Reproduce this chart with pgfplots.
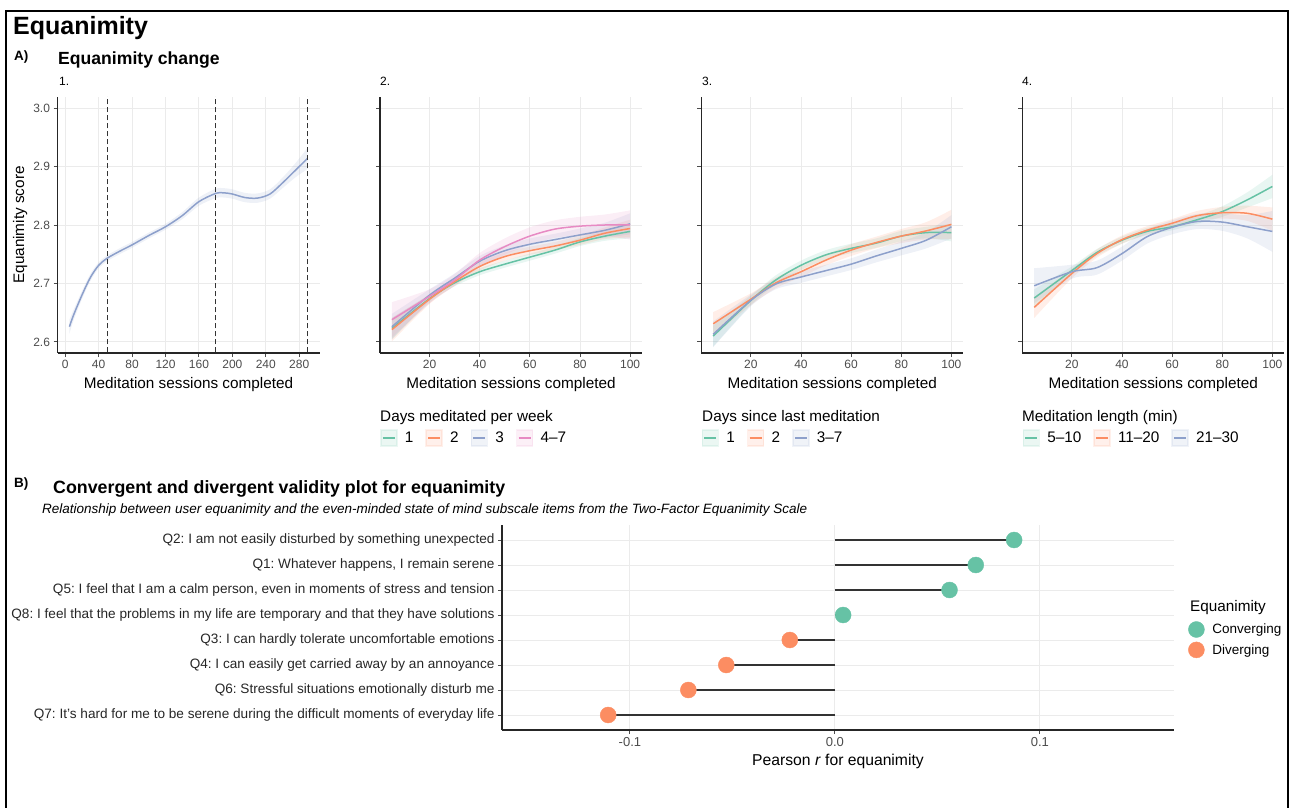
\documentclass[border=0pt]{standalone}
\usepackage{fontspec}
\setmainfont{Liberation Sans}
\usepackage{pgfplots}
\pgfplotsset{compat=1.18}
\usepackage{pgfplotstable}
\usepgfplotslibrary{fillbetween}
\frenchspacing

\definecolor{sgreen}{HTML}{66C2A5}
\definecolor{sorange}{HTML}{FC8D62}
\definecolor{sblue}{HTML}{8DA0CB}
\definecolor{spink}{HTML}{E78AC3}
\definecolor{gridc}{HTML}{EBEBEB}

\pgfplotstableread{
x y e
5 2.626 0.012
10 2.646 0.009
20 2.680 0.007
30 2.710 0.006
40 2.731 0.005
50 2.743 0.005
65 2.755 0.005
80 2.766 0.005
100 2.782 0.005
120 2.797 0.005
140 2.816 0.006
160 2.840 0.007
180 2.854 0.008
190 2.855 0.008
200 2.853 0.008
215 2.847 0.008
230 2.846 0.008
245 2.853 0.008
260 2.872 0.009
275 2.893 0.012
290 2.914 0.018
}\tA

\pgfplotstableread{
x g ge o oe b be p pe
5 2.623 0.018 2.621 0.020 2.626 0.022 2.638 0.030
20 2.674 0.007 2.673 0.008 2.680 0.010 2.678 0.012
30 2.701 0.006 2.703 0.007 2.709 0.008 2.706 0.010
40 2.720 0.006 2.729 0.007 2.738 0.009 2.740 0.012
50 2.733 0.006 2.746 0.007 2.756 0.009 2.763 0.014
60 2.745 0.006 2.756 0.007 2.767 0.010 2.781 0.015
70 2.757 0.006 2.764 0.007 2.775 0.010 2.793 0.015
80 2.771 0.007 2.774 0.008 2.783 0.011 2.798 0.016
90 2.781 0.008 2.786 0.010 2.791 0.013 2.800 0.018
100 2.789 0.012 2.794 0.015 2.802 0.018 2.800 0.025
}\tB

\pgfplotstableread{
x g ge o oe b be
5 2.610 0.018 2.631 0.020 2.613 0.022
20 2.671 0.008 2.673 0.010 2.671 0.010
30 2.706 0.008 2.701 0.009 2.699 0.009
40 2.731 0.008 2.720 0.009 2.711 0.010
50 2.749 0.008 2.740 0.009 2.722 0.010
60 2.760 0.008 2.757 0.010 2.733 0.010
70 2.769 0.008 2.770 0.010 2.747 0.011
80 2.781 0.009 2.781 0.012 2.760 0.012
90 2.787 0.010 2.790 0.015 2.774 0.014
100 2.787 0.015 2.801 0.025 2.797 0.020
}\tC

\pgfplotstableread{
x g ge o oe b be
5 2.675 0.015 2.659 0.018 2.696 0.030
20 2.722 0.007 2.717 0.008 2.720 0.012
30 2.753 0.006 2.751 0.007 2.727 0.012
40 2.774 0.006 2.775 0.007 2.751 0.012
50 2.789 0.006 2.791 0.007 2.780 0.012
60 2.797 0.006 2.803 0.007 2.796 0.012
70 2.809 0.007 2.816 0.008 2.806 0.013
80 2.823 0.009 2.821 0.010 2.805 0.015
90 2.843 0.013 2.820 0.013 2.797 0.020
100 2.866 0.020 2.810 0.020 2.789 0.035
}\tD

\pgfplotstableread{
r v
8 0.0874
7 0.0687
6 0.0559
5 0.0040
}\tConv
\pgfplotstableread{
r v
4 -0.0220
3 -0.0530
2 -0.0715
1 -0.1106
}\tDiv
\pgfplotstableread{
r v
8 0.0874
7 0.0687
6 0.0559
5 0.0040
4 -0.0220
3 -0.0530
2 -0.0715
1 -0.1106
}\tAll

\newcommand{\band}[5]{%
  \addplot[draw=none, smooth, forget plot, name path=U#5] table[x=x, y expr=\thisrow{#2}+\thisrow{#3}] {#1};
  \addplot[draw=none, smooth, forget plot, name path=L#5] table[x=x, y expr=\thisrow{#2}-\thisrow{#3}] {#1};
  \addplot[fill=#4, fill opacity=0.15, draw=none, forget plot] fill between[of=U#5 and L#5];
}

\pgfplotsset{
  base/.style={scale only axis, anchor=south west, axis lines*=left,
    axis line style={line width=1.1pt, black!85},
    grid=major, major grid style={gridc, line width=0.9pt},
    tick align=outside, major tick length=4pt,
    tick style={black!70, line width=0.9pt},
    ticklabel style={font=\fontsize{12}{12}\selectfont, text=black!70},
    /pgf/number format/assume math mode=true,
    label style={font=\fontsize{15.3}{15.3}\selectfont}},
  panel/.style={base, width=262pt, height=256pt, ymin=2.581, ymax=3.019,
    ytick={2.6,2.7,2.8,2.9,3.0},
    xlabel={Meditation sessions completed},
    x label style={at={(rel axis cs:0.5,0)}, anchor=base, yshift=-35pt}},
  small/.style={panel, xmin=0.25, xmax=104.75, xtick={20,40,60,80,100}, yticklabels={},
    legend style={at={(rel axis cs:0,0)}, anchor=north west, yshift=-76pt,
      draw=none, fill=none, inner sep=0pt, legend columns=-1,
      font=\fontsize{15.3}{15.3}\selectfont,
      /tikz/every even column/.append style={column sep=10pt}},
    legend image code/.code={\fill[opacity=0.13] (0pt,-8pt) rectangle (16pt,8pt);
      \draw[line width=1.4pt] (2pt,0pt) -- (14pt,0pt);
      \path[draw=none, fill=none] (0pt,0pt) -- (22pt,0pt);}},
}

\begin{document}
\begin{tikzpicture}[x=1pt,y=1pt]
\coordinate (P1) at (57.5,454);
\coordinate (P2) at (380,454);
\coordinate (P3) at (701.3,454);
\coordinate (P4) at (1022.3,454);
\coordinate (PB) at (502,77);
\draw[line width=1.8pt] (6,-20) -- (6,796) -- (1288,796) -- (1288,-20);

\node[anchor=base west, inner sep=0pt, font=\fontsize{25}{25}\selectfont\bfseries] at (13,772) {Equanimity};
\node[anchor=base west, inner sep=0pt, font=\fontsize{13.5}{13.5}\selectfont\bfseries] at (14,746) {A)};
\node[anchor=base west, inner sep=0pt, font=\fontsize{17.6}{17.6}\selectfont\bfseries] at (58,742) {Equanimity change};
\node[anchor=base west, inner sep=0pt, font=\fontsize{12}{12}\selectfont] at (59,721) {1.};
\node[anchor=base west, inner sep=0pt, font=\fontsize{12}{12}\selectfont] at (380,721) {2.};
\node[anchor=base west, inner sep=0pt, font=\fontsize{12}{12}\selectfont] at (702,721) {3.};
\node[anchor=base west, inner sep=0pt, font=\fontsize{12}{12}\selectfont] at (1022,721) {4.};

% Panel 1
\begin{axis}[panel, at={(P1)}, xmin=-9.25, xmax=304.25,
  xtick={0,40,80,120,160,200,240,280},
  yticklabel style={/pgf/number format/.cd, fixed, fixed zerofill, precision=1},
  ylabel={Equanimity score},
  y label style={at={(rel axis cs:-0.17,0.5)}, anchor=north, inner sep=0pt}]
  \band{\tA}{y}{e}{sblue}{a}
  \addplot[sblue, line width=1.5pt, smooth] table[x=x, y=y] {\tA};
  \addplot[black!80, line width=1pt, dash pattern=on 5pt off 3pt, forget plot] coordinates {(50,2.5) (50,3.1)};
  \addplot[black!80, line width=1pt, dash pattern=on 5pt off 3pt, forget plot] coordinates {(180,2.5) (180,3.1)};
  \addplot[black!80, line width=1pt, dash pattern=on 5pt off 3pt, forget plot] coordinates {(290,2.5) (290,3.1)};
\end{axis}

% Panel 2
\begin{axis}[small, at={(P2)}]
  \band{\tB}{g}{ge}{sgreen}{g}
  \band{\tB}{o}{oe}{sorange}{o}
  \band{\tB}{b}{be}{sblue}{b}
  \band{\tB}{p}{pe}{spink}{p}
  \addplot[sgreen, line width=1.5pt, smooth] table[x=x, y=g] {\tB}; \addlegendentry{1}
  \addplot[sorange, line width=1.5pt, smooth] table[x=x, y=o] {\tB}; \addlegendentry{2}
  \addplot[sblue, line width=1.5pt, smooth] table[x=x, y=b] {\tB}; \addlegendentry{3}
  \addplot[spink, line width=1.5pt, smooth] table[x=x, y=p] {\tB}; \addlegendentry{4--7}
\end{axis}
\node[anchor=base west, inner sep=0pt, font=\fontsize{15.3}{15.3}\selectfont] at (380,386) {Days meditated per week};

% Panel 3
\begin{axis}[small, at={(P3)}]
  \band{\tC}{g}{ge}{sgreen}{g}
  \band{\tC}{o}{oe}{sorange}{o}
  \band{\tC}{b}{be}{sblue}{b}
  \addplot[sgreen, line width=1.5pt, smooth] table[x=x, y=g] {\tC}; \addlegendentry{1}
  \addplot[sorange, line width=1.5pt, smooth] table[x=x, y=o] {\tC}; \addlegendentry{2}
  \addplot[sblue, line width=1.5pt, smooth] table[x=x, y=b] {\tC}; \addlegendentry{3--7}
\end{axis}
\node[anchor=base west, inner sep=0pt, font=\fontsize{15.3}{15.3}\selectfont] at (702,386) {Days since last meditation};

% Panel 4
\begin{axis}[small, at={(P4)}]
  \band{\tD}{g}{ge}{sgreen}{g}
  \band{\tD}{o}{oe}{sorange}{o}
  \band{\tD}{b}{be}{sblue}{b}
  \addplot[sgreen, line width=1.5pt, smooth] table[x=x, y=g] {\tD}; \addlegendentry{5--10}
  \addplot[sorange, line width=1.5pt, smooth] table[x=x, y=o] {\tD}; \addlegendentry{11--20}
  \addplot[sblue, line width=1.5pt, smooth] table[x=x, y=b] {\tD}; \addlegendentry{21--30}
\end{axis}
\node[anchor=base west, inner sep=0pt, font=\fontsize{15.3}{15.3}\selectfont] at (1022,386) {Meditation length (min)};

% Panel B
\node[anchor=base west, inner sep=0pt, font=\fontsize{13.5}{13.5}\selectfont\bfseries] at (14,320) {B)};
\node[anchor=base west, inner sep=0pt, font=\fontsize{17.8}{17.8}\selectfont\bfseries] at (53,314) {Convergent and divergent validity plot for equanimity};
\node[anchor=base west, inner sep=0pt, font=\fontsize{13.5}{13.5}\selectfont\itshape] at (42,294) {Relationship between user equanimity and the even-minded state of mind subscale items from the Two-Factor Equanimity Scale};

\begin{axis}[base, at={(PB)}, width=672pt, height=205pt,
  xmin=-0.1624, xmax=0.1654, ymin=0.4, ymax=8.6,
  xtick={-0.1,0,0.1}, xticklabels={-0.1,0.0,0.1},
  ytick={1,2,3,4,5,6,7,8},
  yticklabels={{Q7: It’s hard for me to be serene during the difficult moments of everyday life},
    {Q6: Stressful situations emotionally disturb me},
    {Q4: I can easily get carried away by an annoyance},
    {Q3: I can hardly tolerate uncomfortable emotions},
    {Q8: I feel that the problems in my life are temporary and that they have solutions},
    {Q5: I feel that I am a calm person, even in moments of stress and tension},
    {Q1: Whatever happens, I remain serene},
    {Q2: I am not easily disturbed by something unexpected}},
  yticklabel style={font=\fontsize{13.6}{13.6}\selectfont, text=black!85},
  xticklabel style={font=\fontsize{13}{13}\selectfont},
  xlabel={Pearson \textit{r} for equanimity},
  x label style={at={(rel axis cs:0.5,0)}, anchor=base, yshift=-35pt, font=\fontsize{15.7}{15.7}\selectfont},
  legend cell align=left,
  legend style={at={(rel axis cs:1,0.541)}, anchor=north west, xshift=14pt, yshift=-2pt,
    draw=none, fill=none, inner sep=0pt, font=\fontsize{13.5}{13.5}\selectfont, row sep=4pt},
  legend image code/.code={\fill (8pt,0pt) circle (8pt); \path[draw=none, fill=none] (0pt,0pt) -- (22pt,0pt);}]
  \addplot[only marks, mark=*, mark size=8pt, color=sgreen] table[x=v, y=r] {\tConv}; \addlegendentry{Converging}
  \addplot[only marks, mark=*, mark size=8pt, color=sorange] table[x=v, y=r] {\tDiv}; \addlegendentry{Diverging}
  \addplot[xcomb, black!80, line width=1.3pt, forget plot] table[x=v, y=r] {\tAll};
\end{axis}
\node[anchor=base west, inner sep=0pt, font=\fontsize{15.3}{15.3}\selectfont] at (1190,196) {Equanimity};
\pgfresetboundingbox
\useasboundingbox (0,0) rectangle (1292,807);
\end{tikzpicture}
\end{document}
